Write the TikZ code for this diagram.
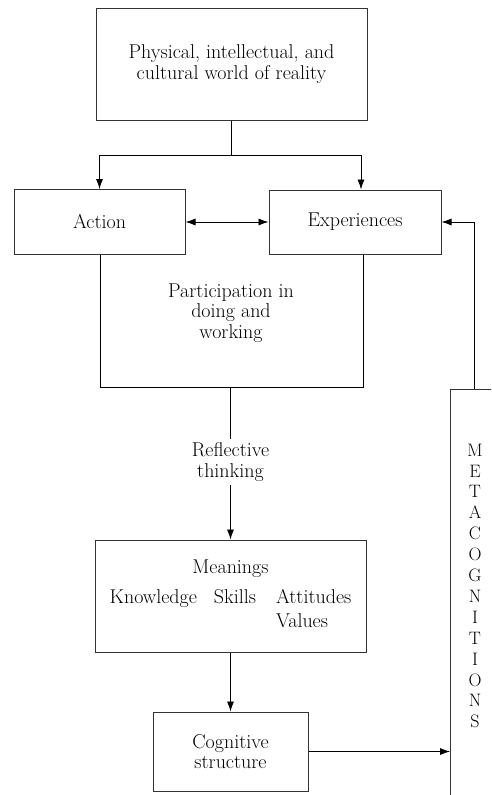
\documentclass[tikz,border=0pt]{standalone}
\usepackage{tikz}
\usetikzlibrary{arrows, arrows.meta, positioning}

\begin{document}
\begin{tikzpicture}[x=1pt,y=-1pt,line width=0.8pt,>={Latex[length=10pt,width=7pt]},
  font=\fontsize{20}{20.5}\selectfont,
  box/.style={draw=black!80,line width=1pt,align=center},
  txt/.style={align=center}]
  \clip (0,0) rectangle (491,795);
  \node[box,minimum width=271pt,minimum height=112pt] (world) at (231.5,64){Physical, intellectual, and\\cultural world of reality};
  \node[box,minimum width=171pt,minimum height=65pt] (action) at (99.5,222){Action};
  \node[box,minimum width=172pt,minimum height=64pt] (exper) at (355,222){Experiences};
  \node[txt] (particip) at (231,313){Participation in\\doing and\\working};
  \node[txt] (reflect) at (230.5,462){Reflective\\thinking};
  \node[box,minimum width=271pt,minimum height=112pt] (meaning) at (230.5,596){%
    \begin{tabular}{@{}l@{\hspace{17pt}}l@{\hspace{20pt}}l@{}}
      \multicolumn{3}{c}{Meanings}\\[10pt]
      Knowledge & Skills & Attitudes\\[3pt]
      & & Values
    \end{tabular}};
  \node[box,minimum width=155pt,minimum height=79pt] (cognit) at (230.5,751.5){Cognitive\\structure};
  \draw[draw=black!80,line width=1pt] (450,830) -- (450,389) -- (520,389);
  \node[txt,font=\fontsize{18}{20.9}\selectfont] (meta) at (475,586){M\\E\\T\\A\\C\\O\\G\\N\\I\\T\\I\\O\\N\\S};
  \coordinate (split) at (231.5,155);
  \coordinate (metain) at (450,752);
  \coordinate (metatop) at (474,389);
  % connectors
  \draw (world.south) -- (split);
  \draw[->] (split) -| (action.north);
  \draw[->] (split) -| ([xshift=6pt]exper.north);
  \draw[<->] (action.east) -- (exper.west);
  \draw ([xshift=0.5pt]action.south) |- (363,387) -- ([xshift=8pt]exper.south);
  \draw (230.5,387) -- (reflect.north);
  \draw[->] (reflect.south) -- (meaning.north);
  \draw[->] (meaning.south) -- (cognit.north);
  \draw[->] (cognit.east) -- (cognit.east -| metain);
  \draw[->] (metatop) |- (exper.east);
\end{tikzpicture}
\end{document}
